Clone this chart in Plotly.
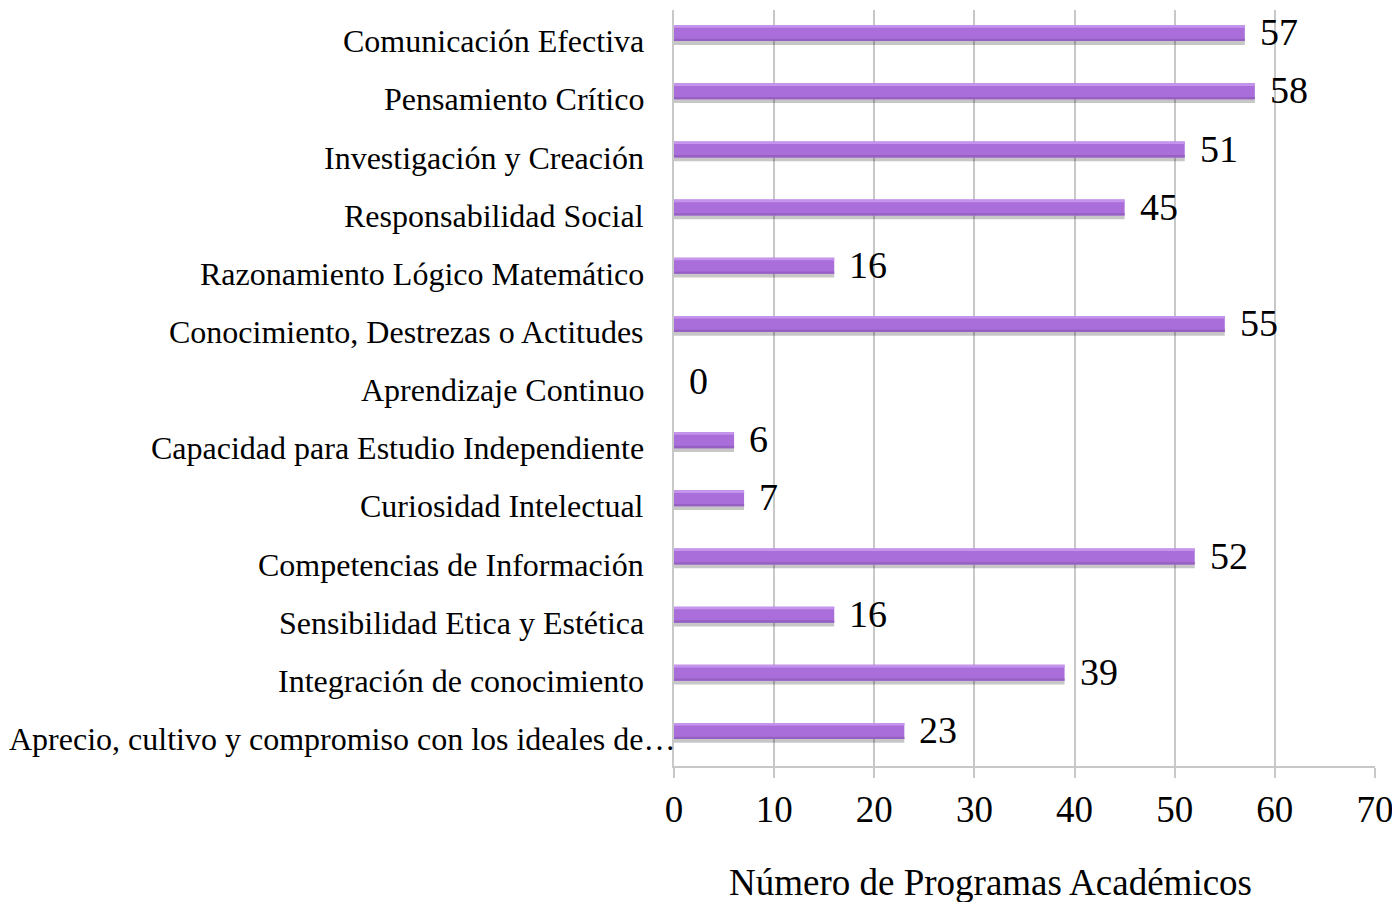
import plotly.graph_objects as go

categorias = [
    "Comunicación Efectiva",
    "Pensamiento Crítico",
    "Investigación y Creación",
    "Responsabilidad Social",
    "Razonamiento Lógico Matemático",
    "Conocimiento, Destrezas o Actitudes",
    "Aprendizaje Continuo",
    "Capacidad para Estudio Independiente",
    "Curiosidad Intelectual",
    "Competencias de Información",
    "Sensibilidad Etica y Estética",
    "Integración de conocimiento",
    "Aprecio, cultivo y compromiso con los ideales de…",
]
programas = [57, 58, 51, 45, 16, 55, 0, 6, 7, 52, 16, 39, 23]
ticks_x = [0, 10, 20, 30, 40, 50, 60, 70]

serif = "Liberation Serif"

fig = go.Figure()

# bar body + soft 3D look (shadow, top highlight, darker lower edge)
capas = [
    # (color, offset, width)
    ("rgba(0,0,0,0.22)", 0.13, 0.07),
    ("#aa6edb", -0.14, 0.275),
    ("#c594ec", -0.14, 0.045),
    ("#9560c2", 0.095, 0.04),
]
for color, off, w in capas:
    fig.add_trace(
        go.Bar(
            x=programas, y=categorias,
            orientation="h",
            offset=off, width=w,
            marker=dict(color=color, line=dict(width=0)),
            showlegend=False,
            hoverinfo="skip" if color != "#aa6edb" else None,
        )
    )

# value labels
for cat, val in zip(categorias, programas):
    fig.add_annotation(
        x=val, y=cat, xref="x", yref="y",
        text=str(val), showarrow=False,
        xanchor="left", xshift=13, yshift=1,
        font=dict(family=serif, size=38, color="black"),
    )

# category labels (right aligned next to the axis)
for i, cat in enumerate(categorias):
    largo = i == len(categorias) - 1
    fig.add_annotation(
        x=0, y=cat, xref="paper", yref="y",
        text=cat, showarrow=False,
        xanchor="right", xshift=4 if largo else -28, yshift=-8,
        font=dict(family=serif, size=32, color="black"),
    )

# x axis title
fig.add_annotation(
    x=0.451, y=0, xref="paper", yref="paper",
    text="Número de Programas Académicos", showarrow=False,
    xanchor="center", yanchor="middle", yshift=-116,
    font=dict(family=serif, size=37, color="black"),
)

fig.update_layout(
    width=1392, height=894,
    margin=dict(l=666, r=25, t=2, b=136),
    plot_bgcolor="white",
    paper_bgcolor="white",
    font=dict(family=serif, color="black"),
    barmode="overlay",
)

fig.update_xaxes(
    range=[0, 70],
    tickvals=ticks_x,
    automargin=False,
    showgrid=True, gridcolor="#c8c8c8", gridwidth=1.5,
    showline=True, linecolor="#c8c8c8", linewidth=1.5,
    ticks="outside", ticklen=10, tickcolor="#c8c8c8", tickwidth=1.5,
    tickfont=dict(family=serif, size=37),
    zeroline=False,
)

fig.update_yaxes(
    type="category",
    categoryorder="array", categoryarray=categorias,
    range=[12.6, -0.4],
    automargin=False,
    showline=True, linecolor="#c8c8c8", linewidth=1.5,
    ticks="", showticklabels=False,
    showgrid=False,
)

fig.write_html("out.html")
